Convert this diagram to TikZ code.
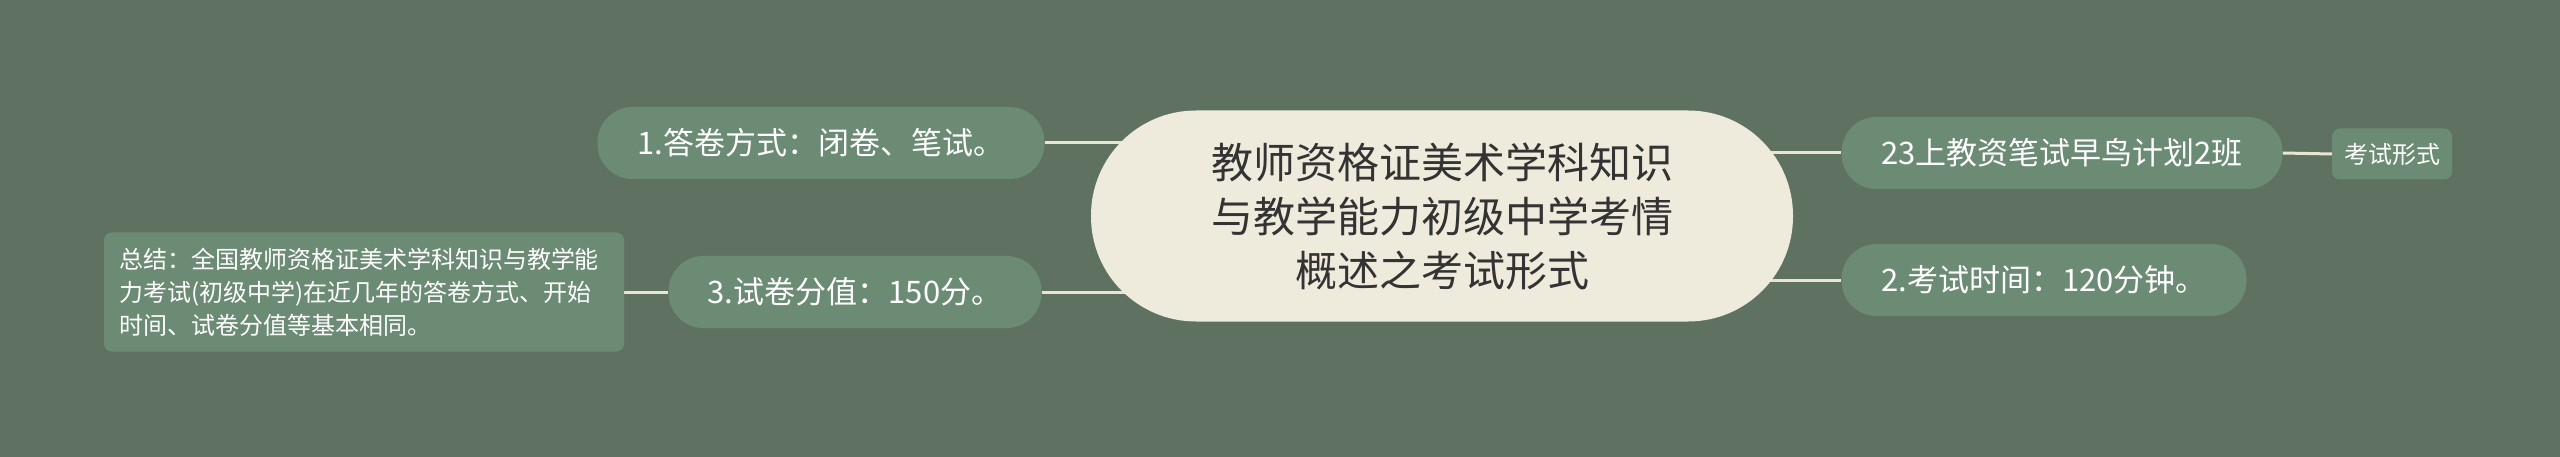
\documentclass[tikz,border=0pt]{standalone}
\usepackage{fontspec}
\setmainfont{Noto Sans CJK SC}
\usetikzlibrary{backgrounds}
\definecolor{bgcol}{HTML}{5F7262}
\definecolor{topiccol}{HTML}{6C8B74}
\definecolor{maincol}{HTML}{EFEBDC}
\definecolor{linkcol}{HTML}{E9E5D3}
\definecolor{maintext}{HTML}{333333}
\tikzset{
  topic/.style={fill=topiccol, text=white, rounded corners=35pt, minimum height=72pt,
    font=\fontsize{31}{36}\selectfont},
  note/.style={fill=topiccol, text=white, rounded corners=8pt,
    font=\fontsize{24}{33}\selectfont},
  link/.style={draw=linkcol, line width=3pt},
}
\begin{document}
\begin{tikzpicture}[x=1pt,y=-1pt]
    \useasboundingbox (0,0) rectangle (2560,457);

    \node [fill=maincol, rounded corners=105pt, minimum width=702pt, minimum height=211pt,
      text=maintext, align=center, font=\fontsize{42}{54}\selectfont] (main) at (1442,216)
      {教师资格证美术学科知识\\与教学能力初级中学考情\\概述之考试形式};

    \node [topic, minimum width=447pt] (n1) at (821,143) {1.答卷方式：闭卷、笔试。};
    \node [topic, minimum width=373pt] (n3) at (855,292) {3.试卷分值：150分。};
    \node [note, minimum width=520pt, minimum height=119pt, text width=490pt, align=left] (sum) at (364,292)
      {总结：全国教师资格证美术学科知识与教学能\\力考试(初级中学)在近几年的答卷方式、开始\\时间、试卷分值等基本相同。};
    \node [topic, minimum width=441pt] (t23) at (2062,153) {23上教资笔试早鸟计划2班};
    \node [note, minimum width=120pt, minimum height=51pt] (form) at (2392,154) {考试形式};
    \node [topic, minimum width=405pt] (n2) at (2044,280) {2.考试时间：120分钟。};

    \begin{scope}[on background layer]
      \fill [bgcol] (0,0) rectangle (2560,457);
      \draw [link] (n1.east) -- (n1.east -| main.center);
      \draw [link] (n3.east) -- (n3.east -| main.center);
      \draw [link] (t23.west) -- (t23.west -| main.center);
      \draw [link] (n2.west) -- (n2.west -| main.center);
      \draw [link] (sum.east) -- (n3.west);
      \draw [link] (t23.east) -- (form.west);
    \end{scope}
\end{tikzpicture}
\end{document}
